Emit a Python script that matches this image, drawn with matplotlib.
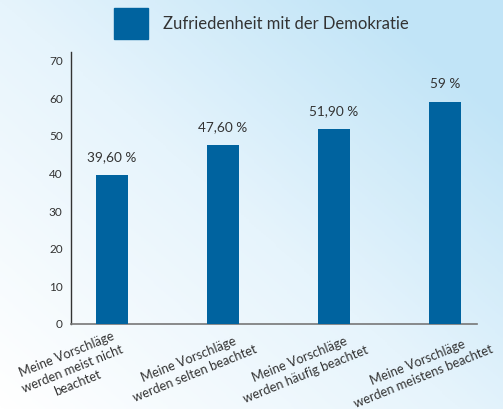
import numpy as np
import matplotlib
matplotlib.use("Agg")
import matplotlib.pyplot as plt
from matplotlib.patches import Rectangle
from matplotlib.colors import LinearSegmentedColormap

categories = [
    "Meine Vorschläge\nwerden meist nicht\nbeachtet",
    "Meine Vorschläge\nwerden selten beachtet",
    "Meine Vorschläge\nwerden häufig beachtet",
    "Meine Vorschläge\nwerden meistens beachtet",
]
values = [39.6, 47.6, 51.9, 59.0]
value_labels = ["39,60 %", "47,60 %", "51,90 %", "59 %"]
series_name = "Zufriedenheit mit der Demokratie"
yticks = [0, 10, 20, 30, 40, 50, 60, 70]

BAR = "#00639f"
TXT = "#333333"
plt.rcParams['font.family'] = ['Lato', 'DejaVu Sans']

W, H = 503, 409
fig = plt.figure(figsize=(W / 100, H / 100), dpi=100)

# background gradient
bg = fig.add_axes([0, 0, 1, 1], zorder=-10)
bg.axis("off")
yy, xx = np.mgrid[0:1:200j, 0:1:200j]
g = (xx * 0.6 + yy * 0.55)
g = np.clip(g, 0, 1)
cmap = LinearSegmentedColormap.from_list("g", ["#ffffff", "#e6f4fc", "#b9e1f6"])
bg.imshow(g, cmap=cmap, origin="lower", extent=[0, 1, 0, 1], aspect="auto", vmin=0, vmax=1.1)
bg.set_xlim(0, 1)
bg.set_ylim(0, 1)

ax = fig.add_axes([71 / W, 1 - 324 / H, (477 - 71) / W, (324 - 52) / H])
ax.set_facecolor("none")
x = np.arange(len(values))
ax.bar(x, values, width=0.29, color=BAR, zorder=3)
ax.set_xlim(-0.37, 3.29)
ax.set_ylim(0, 72.3)
ax.set_yticks(yticks)
ax.set_yticklabels([str(t) for t in yticks], fontsize=8.5, color=TXT)
ax.tick_params(axis="y", length=0, pad=6)
ax.set_xticks([])
for s in ["top", "right"]:
    ax.spines[s].set_visible(False)
ax.spines["left"].set_color("#333333")
ax.spines["left"].set_linewidth(1.0)
ax.spines["bottom"].set_color("#777777")
ax.spines["bottom"].set_linewidth(1.2)

for xi, v, lab in zip(x, values, value_labels):
    ax.annotate(lab, xy=(xi, v), xytext=(0, 12), textcoords="offset pixels",
                ha="center", va="bottom", fontsize=9.8, color=TXT)

for xi, c in zip(x, categories):
    ax.annotate(c, xy=(xi, 0), xycoords=("data", "axes fraction"),
                xytext=(-98, -5), textcoords="offset pixels",
                ha="left", va="top", rotation=22, multialignment="center",
                fontsize=9.3, color=TXT, linespacing=1.35)

# legend
fig.patches.append(Rectangle((114 / W, 1 - 39 / H), 34 / W, 31 / H,
                             transform=fig.transFigure, color=BAR))
fig.text(163 / W, 1 - 24 / H, series_name, ha="left", va="center",
         fontsize=12, color=TXT)

fig.savefig("out.png", dpi=100)
